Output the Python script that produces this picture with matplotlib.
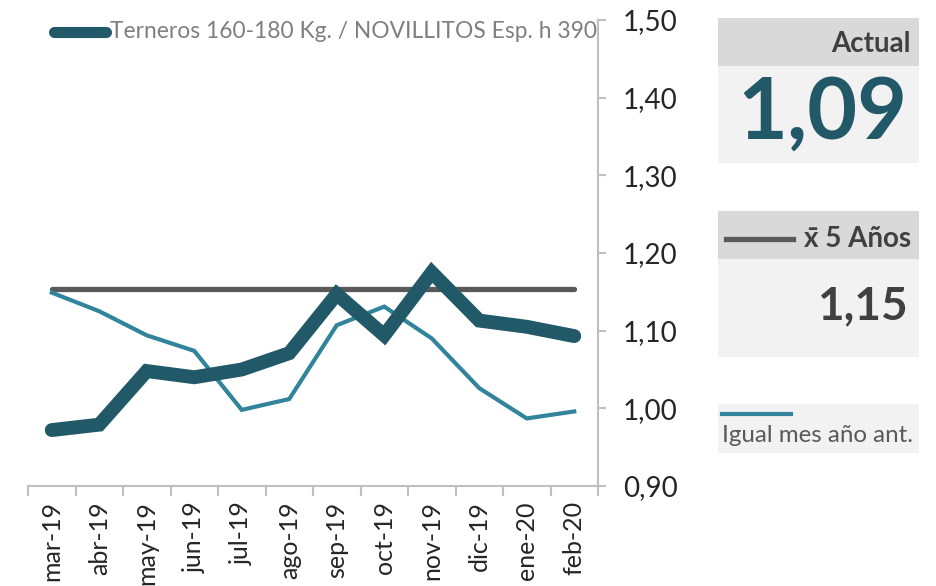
import matplotlib
matplotlib.use("Agg")
import matplotlib.pyplot as plt
from matplotlib.patches import Rectangle
from matplotlib.lines import Line2D

# data
months = ["mar-19", "abr-19", "may-19", "jun-19", "jul-19", "ago-19",
          "sep-19", "oct-19", "nov-19", "dic-19", "ene-20", "feb-20"]
ratio = [0.972, 0.979, 1.048, 1.040, 1.050, 1.071,
         1.147, 1.094, 1.175, 1.113, 1.105, 1.093]
prev_year = [1.149, 1.125, 1.094, 1.074, 0.998, 1.012,
             1.107, 1.131, 1.090, 1.026, 0.987, 0.996]
avg_5y = 1.154
yticks = [0.90, 1.00, 1.10, 1.20, 1.30, 1.40, 1.50]

DARK = "#215968"
TEAL = "#31849B"
GREY = "#595959"
SPINE = "#BFBFBF"
FONT = ["Lato", "DejaVu Sans"]

W, H = 936, 586
fig = plt.figure(figsize=(W / 100, H / 100), dpi=100)


def fx(px):
    return px / W


def fy(py):
    return 1 - py / H


ax = fig.add_axes([fx(28), fy(486), fx(598) - fx(28), fy(20) - fy(486)])
x = list(range(len(months)))
ax.plot([x[0], x[-1]], [avg_5y, avg_5y], color=GREY, lw=3.8,
        solid_capstyle="round", zorder=2)
ax.plot(x, prev_year, color=TEAL, lw=3, solid_joinstyle="miter", zorder=3)
ax.plot(x, ratio, color=DARK, lw=10, solid_capstyle="round",
        solid_joinstyle="miter", zorder=4)

ax.set_xlim(-0.5, len(months) - 0.5)
ax.set_ylim(0.90, 1.50)
for s in ("left", "top"):
    ax.spines[s].set_visible(False)
for s in ("right", "bottom"):
    ax.spines[s].set_color(SPINE)
    ax.spines[s].set_linewidth(1.5)

ax.yaxis.tick_right()
ax.set_yticks(yticks)
ax.set_yticklabels([f"{v:.2f}".replace(".", ",") for v in yticks],
                   family=FONT, fontsize=20, color="#262626")
ax.tick_params(axis="y", length=6, width=1.5, color=SPINE, pad=12)

ax.set_xticks(x)
ax.set_xticklabels(months, rotation=90, family=FONT,
                   fontsize=18, color="#262626")
ax.set_xticks([i - 0.5 for i in range(len(months) + 1)], minor=True)
ax.tick_params(axis="x", which="major", length=0, pad=11)
ax.tick_params(axis="x", which="minor", length=7, width=1.5, color=SPINE)

# legend at top
fig.add_artist(Line2D([fx(54), fx(106)], [fy(32), fy(32)], color=DARK, lw=8,
                      solid_capstyle="round"))
fig.text(fx(110), fy(32), "Terneros 160-180 Kg. / NOVILLITOS Esp. h 390",
         family=FONT, fontsize=16.4, color="#7F7F7F", va="center", ha="left")

# right-hand panels
def box(x0, y0, x1, y1, color):
    fig.patches.append(Rectangle((fx(x0), fy(y1)), fx(x1) - fx(x0),
                                 fy(y0) - fy(y1), transform=fig.transFigure,
                                 facecolor=color, edgecolor="none"))


box(718, 18, 919, 66, "#D9D9D9")
box(718, 66, 919, 163, "#F2F2F2")
box(718, 211, 919, 259, "#D9D9D9")
box(718, 259, 919, 357, "#F2F2F2")
box(718, 404, 919, 453, "#F2F2F2")

fig.text(fx(911), fy(44), "Actual", family=FONT, fontsize=20,
         fontweight="bold", color="#404040", ha="right", va="center")
fig.text(fx(822), fy(114), f"{ratio[-1]:.2f}".replace(".", ","), family=FONT,
         fontsize=62, fontweight="bold", color=DARK, ha="center", va="center")

fig.add_artist(Line2D([fx(726), fx(793)], [fy(239), fy(239)], color=GREY, lw=3.8))
fig.text(fx(911), fy(239), "x\u0304 5 Años", family=FONT, fontsize=20,
         fontweight="bold", color="#404040", ha="right", va="center")
fig.text(fx(908), fy(306), f"{avg_5y:.2f}".replace(".", ","), family=FONT,
         fontsize=33, fontweight="bold", color="#404040", ha="right", va="center")

fig.add_artist(Line2D([fx(722), fx(791)], [fy(414), fy(414)], color=TEAL, lw=3))
fig.text(fx(722), fy(436), "Igual mes año ant.", family=FONT, fontsize=17.4,
         color="#595959", ha="left", va="center")

fig.savefig("out.png", dpi=100)
